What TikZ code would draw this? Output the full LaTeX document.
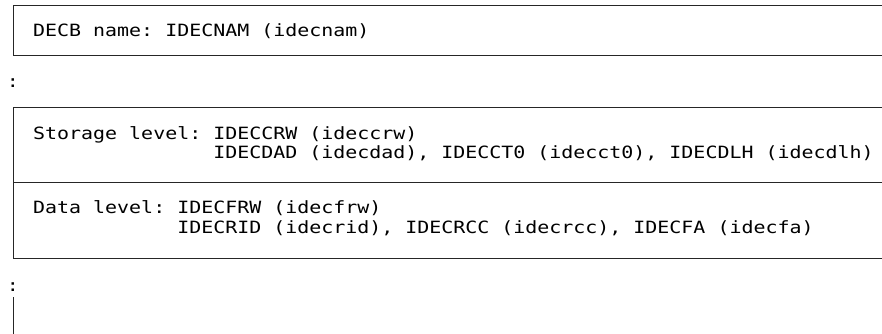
\documentclass[tikz,border=0pt]{standalone}
\usepackage{fontspec}
\setmonofont[FakeStretch=1.18]{DejaVu Sans Mono}
\usetikzlibrary{positioning,calc}

\begin{document}
\begin{tikzpicture}[
    x=1pt, y=-1pt,
    line/.style={line width=0.8pt, draw=black!85},
    txt/.style={anchor=base west, inner sep=0pt, font=\fontsize{16.9}{19.5}\selectfont\ttfamily},
    dots/.style={inner sep=0pt, font=\fontsize{16.9}{19.5}\selectfont\ttfamily}
]
\useasboundingbox (0,0) rectangle (882,334);

% DECB name box
\draw[line] (882,5) -- (13,5) -- (13,55) -- (882,55);
\node[txt] (name) at (33,37) {DECB name: IDECNAM (idecnam)};

% gap
\node[dots] (gap1) at (13,83) {:};

% Storage level
\draw[line] (882,107) -- (13,107) -- (13,258) -- (882,258);
\draw[line] (13,182) -- (882,182);
\node[txt] (storage) at (33,139) {Storage level: IDECCRW (ideccrw)};
\node[txt] (storage2) at (33,158.5) {\phantom{Storage level: }IDECDAD (idecdad), IDECCT0 (idecct0), IDECDLH (idecdlh)};

% Data level
\node[txt] (data) at (33,213.5) {Data level: IDECFRW (idecfrw)};
\node[txt] (data2) at (33,233) {\phantom{Data level: }IDECRID (idecrid), IDECRCC (idecrcc), IDECFA (idecfa)};

% more below
\node[dots] (gap2) at (13,287) {:};
\draw[line] (13,297) -- (13,334);

\end{tikzpicture}
\end{document}
